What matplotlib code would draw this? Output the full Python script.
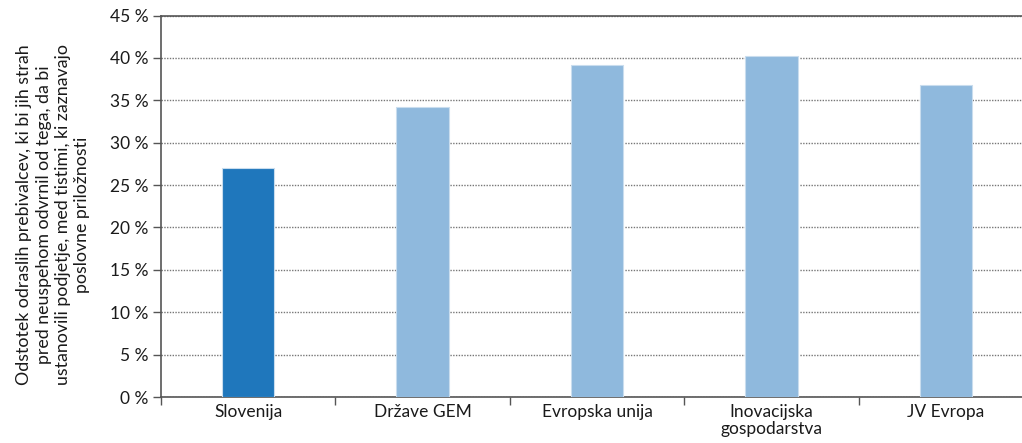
import matplotlib
matplotlib.use("Agg")
import matplotlib.pyplot as plt
import numpy as np

categories = ["Slovenija", "Države GEM", "Evropska unija", "Inovacijska\ngospodarstva", "JV Evropa"]
values = [27.0, 34.2, 39.2, 40.2, 36.8]
bar_colors = ["#1F77BC", "#8FB9DD", "#8FB9DD", "#8FB9DD", "#8FB9DD"]
yticks = [0, 5, 10, 15, 20, 25, 30, 35, 40, 45]
ytick_labels = [f"{v} %" for v in yticks]
ylabel = ("Odstotek odraslih prebivalcev, ki bi jih strah\n"
          "pred neuspehom odvrnil od tega, da bi\n"
          "ustanovili podjetje, med tistimi, ki zaznavajo\n"
          "poslovne priložnosti")

plt.rcParams['font.family'] = ['Lato', 'DejaVu Sans']

fig = plt.figure(figsize=(10.22, 4.43), dpi=100)
ax = fig.add_axes([0.1575, 0.1038, 1.011 - 0.1575, 0.965 - 0.1038])

x = np.arange(len(categories))
ax.bar(x, values, width=0.3, color=bar_colors, edgecolor="#C9DDEE", linewidth=0.8, zorder=3)

ax.set_xlim(-0.5, len(categories) - 0.5)
ax.set_ylim(0, 45)
ax.set_yticks(yticks)
ax.set_yticklabels(ytick_labels, fontsize=12.5, color="#1a1a1a")
ax.yaxis.grid(True, linestyle=(0, (1, 1.0)), color="#777777", linewidth=1.0, zorder=0)

ax.set_xticks(x)
ax.set_xticklabels(categories, fontsize=12.5, color="#1a1a1a", linespacing=1.1)
ax.tick_params(axis="x", length=0, pad=5)
ax.set_xticks(np.arange(-0.5, len(categories) + 0.5, 1), minor=True)
ax.tick_params(axis="x", which="minor", length=6, width=1, color="#555555", direction="out")
ax.tick_params(axis="y", length=6, width=1, color="#555555", direction="out", pad=3)

for side in ["left", "bottom", "top"]:
    ax.spines[side].set_color("#555555")
    ax.spines[side].set_linewidth(1.2)
ax.spines["right"].set_visible(False)

fig.text(0.052, 0.515, ylabel, rotation=90, ha="center", va="center",
         fontsize=12.8, linespacing=1.25, color="#1a1a1a", multialignment="center")

fig.savefig("out.png", dpi=100)
